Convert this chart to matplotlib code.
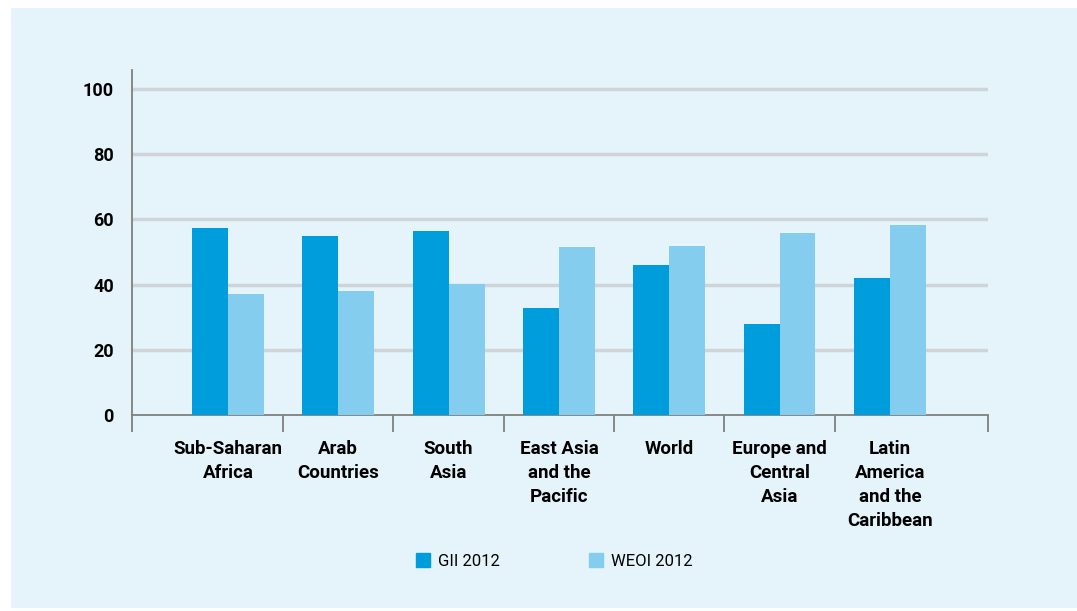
import matplotlib.pyplot as plt
import matplotlib.patches as mpatches
import numpy as np

regions = ['Sub-Saharan\nAfrica', 'Arab\nCountries', 'South\nAsia', 'East Asia\nand the\nPacific',
           'World', 'Europe and\nCentral\nAsia', 'Latin\nAmerica\nand the\nCaribbean']
gii_2012 = [57.4, 54.9, 56.4, 32.8, 46.0, 27.9, 42.0]
weoi_2012 = [37.1, 38.1, 40.2, 51.5, 51.8, 55.8, 58.3]
y_ticks = [0, 20, 40, 60, 80, 100]

plt.rcParams['font.family'] = ['Roboto', 'DejaVu Sans']

bg = '#e5f4fb'
c_gii = '#009ddc'
c_weoi = '#84cdee'

fig = plt.figure(figsize=(10.77, 6.11), dpi=100)
fig.patch.set_facecolor('white')
fig.patches.append(mpatches.Rectangle((11/1077, 3/611), 1066/1077, 600/611,
                                      transform=fig.transFigure, facecolor=bg,
                                      edgecolor='none', zorder=-10))

ax = fig.add_axes([132/1077, (611-415)/611, (988-132)/1077, (415-70)/611])
ax.patch.set_alpha(0)

x = np.arange(len(regions))
w = 0.326
ax.bar(x - w/2, gii_2012, width=w, color=c_gii, label='GII 2012', zorder=3)
ax.bar(x + w/2, weoi_2012, width=w, color=c_weoi, label='WEOI 2012', zorder=3)

xlo, xhi = -0.87, 6.89
ax.set_xlim(xlo, xhi)
ax.set_ylim(0, 105.8)

ax.set_yticks(y_ticks)
ax.set_yticklabels([str(v) for v in y_ticks], fontsize=13, fontweight='bold')
ax.tick_params(axis='y', length=0, pad=13)
for v in y_ticks[1:]:
    ax.axhline(v, color='#cfd4d8', lw=2.5, zorder=1)

ax.set_xticks(x)
ax.set_xticklabels(regions, fontsize=13.5, fontweight='bold', linespacing=1.42)
ax.tick_params(axis='x', which='major', length=0, pad=18)
ax.set_xticks([xlo] + list(np.arange(0.5, 6, 1)) + [xhi], minor=True)
ax.tick_params(axis='x', which='minor', length=12, width=1.3, color='#808080', direction='out')

for s in ['top', 'right']:
    ax.spines[s].set_visible(False)
for s in ['left', 'bottom']:
    ax.spines[s].set_color('#808080')
    ax.spines[s].set_linewidth(1.3)

h1 = plt.Line2D([], [], marker='s', ls='none', color=c_gii, markersize=10)
h2 = plt.Line2D([], [], marker='s', ls='none', color=c_weoi, markersize=10)
fig.legend([h1, h2], ['GII 2012', 'WEOI 2012'], loc='center', bbox_to_anchor=(553.5/1077, (611-561)/611),
           ncol=2, frameon=False, fontsize=12, columnspacing=5.3, handletextpad=0.4, handlelength=1)

fig.savefig('out.png', dpi=100, facecolor='white')
